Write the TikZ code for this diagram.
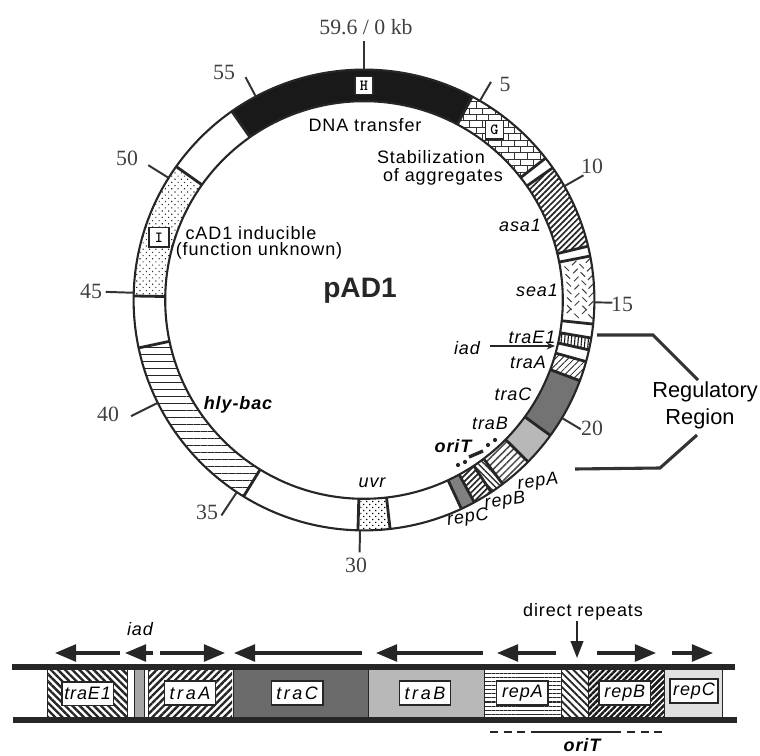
\documentclass[tikz,border=0pt]{standalone}
\usepackage{fontspec}
\setmainfont{Liberation Serif}
\newfontfamily\lblfont[LetterSpace=5]{Liberation Sans}
\newfontfamily\widefont[LetterSpace=14]{Liberation Sans}
\newfontfamily\regfont{Liberation Sans}
\usepackage{tikz}
\usetikzlibrary{arrows.meta,patterns,patterns.meta}
\tikzset{
  lbl/.style={font=\lblfont\fontsize{12.8}{15}\selectfont},
  gen/.style={font=\lblfont\fontsize{12.8}{15}\selectfont\itshape},
  genb/.style={font=\lblfont\fontsize{12.8}{15}\selectfont\itshape\bfseries},
  kbl/.style={font=\fontsize{15.5}{18}\selectfont,text=black!75},
  reglbl/.style={font=\regfont\fontsize{15.5}{18}\selectfont},
  rim/.style={line width=1.5pt,black!85},
  cutl/.style={line width=2pt,black!85},
  tck/.style={line width=1.4pt,black!80},
  band/.style={line width=3.6pt,black!85},
  brace/.style={line width=2.2pt,black!80},
  genarr/.style={line width=2.2pt,black!85,-{Triangle[length=15pt,width=12pt]}},
  lettr/.style={draw=black!85,fill=white,line width=1pt,inner sep=0pt,minimum size=13pt,font=\ttfamily\bfseries\fontsize{11}{11}\selectfont},
  tagbox/.style={draw=black!85,fill=white,line width=1pt,inner sep=0pt,minimum width=36.5pt,minimum height=17pt,font=\lblfont\fontsize{12.8}{15}\selectfont\itshape},
  tagwide/.style={tagbox,font=\widefont\fontsize{12.8}{15}\selectfont\itshape},
  pdots/.style={pattern={Dots[distance=3.2pt,radius=.55pt,angle=45]},pattern color=black!85},
  pdense/.style={pattern={Lines[angle=45,distance=3pt,line width=1.2pt]},pattern color=black!85},
  phoriz/.style={pattern={Lines[angle=0,distance=2.9pt,line width=.8pt]},pattern color=black!85},
  phly/.style={pattern={Lines[angle=0,distance=5pt,line width=.8pt]},pattern color=black!85},
  pvert/.style={pattern={Lines[angle=85,distance=2.4pt,line width=.8pt]},pattern color=black!90},
  pthin/.style={pattern={Lines[angle=45,distance=3.2pt,line width=.6pt]},pattern color=black!85},
  pstripeL/.style={pattern={Lines[angle=-45,distance=3.6pt,line width=1.7pt]},pattern color=black!85},
  pstripeR/.style={pattern={Lines[angle=45,distance=3.6pt,line width=1.7pt]},pattern color=black!85},
}
\newcommand{\rIn}{4.97}
\newcommand{\rOut}{5.76}
% one piece of the ring, angles run clockwise from the top
\newcommand{\ringseg}[3]{\path[#3] ({90-#1}:\rIn) arc[start angle={90-#1},end angle={90-#2},radius=\rIn] -- ({90-#2}:\rOut) arc[start angle={90-#2},end angle={90-#1},radius=\rOut] -- cycle;}
\begin{document}
\begin{tikzpicture}
  \useasboundingbox (0,0) rectangle (19,18.875);
  % plasmid ring
  \begin{scope}[shift={(9.1,11.375)}]
    \ringseg{-35}{28}{fill=black!90}
    % bricks
    \begin{scope}
      \ringseg{28}{52}{clip}
      \foreach \j in {0,...,20}{
        \pgfmathsetmacro{\yy}{2.4+\j*.16}
        \draw[line width=.5pt,black!80] (2,\yy) -- (5.4,\yy);
        \pgfmathsetmacro{\off}{mod(\j,2)*.16}
        \foreach \k in {0,...,11}
          \draw[line width=.5pt,black!80] ({2+\off+\k*.32},\yy) -- ++(0,.16);
      }
    \end{scope}
    \ringseg{55}{76.5}{pdense}
    \ringseg{99.5}{102.5}{pvert}
    \ringseg{105.5}{110.5}{pthin}
    \ringseg{110.5}{126}{fill=black!55}
    \ringseg{126}{134.6}{fill=black!28}
    \ringseg{134.6}{143}{pattern={Lines[angle=45,distance=3.6pt,line width=1.1pt]},pattern color=black!70}
    \ringseg{143}{146.5}{pattern={Lines[angle=-45,distance=3pt,line width=1pt]},pattern color=black!80}
    \ringseg{146.5}{151.4}{pdense}
    \ringseg{151.4}{155}{fill=black!50}
    \ringseg{173.5}{181.5}{pattern={Dots[distance=3pt,radius=.6pt,angle=45]},pattern color=black}
    \ringseg{211.5}{258}{phly}
    \ringseg{271}{305.4}{pdots}
    % sea1 dashes
    \foreach \a in {80.5,82.7,...,95}
      \foreach \r [count=\i] in {5.08,5.27,5.46,5.62}{
        \pgfmathsetmacro{\t}{mod(\i+round(\a),2)*90-45}
        \draw[line width=.7pt,black!75] ({90-\a}:\r) -- ++(\t:.16);
      }
    \draw[rim] (0,0) circle (\rIn);
    \draw[rim] (0,0) circle (\rOut);
    \foreach \a in {-35,28,52,55,76.5,79,96,99.5,102.5,105.5,110.5,126,134.6,143,146.5,151.4,155,173.5,181.5,211.5,258,271,305.4}
      \draw[cutl] ({90-\a}:\rIn) -- ({90-\a}:\rOut);
    % kb ticks
    \foreach \a/\l [count=\i] in {0/.72,30.2/.55,60.4/.55,90.6/.45,120.8/.55,181/.55,213.5/.7,243.5/.75,271.8/.7,302/.6,332/.55}{
      \coordinate (tin\i) at ({90-\a}:\rOut);
      \coordinate (tout\i) at ({90-\a}:\rOut+\l);
      \draw[tck] (tin\i) -- (tout\i);
    }
    \node[lettr] (boxH) at (90:5.36) {H};
    \node[lettr] (boxG) at (90-37.5:5.36) {G};
    \node[lettr,minimum size=14pt] (boxI) at (90-287:5.36) {I};
  \end{scope}
  % kb labels
  \node[kbl] (kb0) at (9.15,18.2) {59.6 / 0 kb};
  \node[kbl] (kb55) at (5.6,17.075) {55};
  \node[kbl] (kb5) at (12.625,16.775) {5};
  \node[kbl] (kb10) at (14.8,14.725) {10};
  \node[kbl] (kb15) at (15.55,11.275) {15};
  \node[kbl] (kb20) at (14.8,8.175) {20};
  \node[kbl] (kb30) at (8.9,4.75) {30};
  \node[kbl] (kb35) at (5.175,6.075) {35};
  \node[kbl] (kb40) at (2.7,8.525) {40};
  \node[kbl] (kb45) at (2.275,11.6) {45};
  \node[kbl] (kb50) at (3.175,14.925) {50};
  % ring texts
  \node[font=\regfont\bfseries\fontsize{20}{24}\selectfont,text=black!85] (plasmid) at (9,11.6) {pAD1};
  \node[lbl] (dna) at (9.125,15.75) {DNA transfer};
  \node[lbl] (stab1) at (10.775,14.95) {Stabilization};
  \node[lbl] (stab2) at (11.075,14.45) {of aggregates};
  \node[lbl] (cad1) at (6.275,13.05) {cAD1 inducible};
  \node[lbl] (cad2) at (6.475,12.6) {(function unknown)};
  \node[gen] (asa) at (13,13.25) {asa1};
  \node[gen] (sea) at (13.425,11.625) {sea1};
  \node[gen] (uvr) at (9.3,6.8) {uvr};
  \node[genb] (hly) at (5.95,8.75) {hly-bac};
  \node[gen] (iad) at (11.675,10.175) {iad};
  \node[gen] (trE) at (13.3,10.45) {traE1};
  \node[gen] (trA) at (13.2,9.825) {traA};
  \node[gen] (trC) at (12.825,9.025) {traC};
  \node[gen] (trB) at (12.25,8.3) {traB};
  \node[genb] (ori) at (11.325,7.725) {oriT};
  \node[gen,rotate=8] (rpA) at (13.45,6.825) {repA};
  \node[gen,rotate=8] (rpB) at (12.625,6.35) {repB};
  \node[gen,rotate=8] (rpC) at (11.7,5.925) {repC};
  % iad pointer
  \coordinate (iadS) at (12.25,10.225);
  \coordinate (iadE) at (13.875,10.225);
  \draw[line width=.9pt,black!85,-{Stealth[length=6pt,width=5pt]}] (iadS) -- (iadE);
  % oriT marks on the ring
  \coordinate (oriA) at (11.725,7.45);
  \coordinate (oriB) at (12.075,7.6);
  \draw[line width=2.4pt,black!85] (oriA) -- (oriB);
  \foreach \n/\x/\y in {a/11.45/7.25,b/11.625/7.325,c/12.2/7.75,d/12.375/7.875}
    \fill[black!85] (\x,\y) coordinate (dot\n) circle (1.5pt);
  % regulatory region
  \node[reglbl] (reg1) at (17.625,9.075) {Regulatory};
  \node[reglbl] (reg2) at (17.5,8.4) {Region};
  \coordinate (brA) at (14.925,10.5);
  \coordinate (brB) at (16.325,10.5);
  \coordinate (brC) at (17.45,9.375);
  \coordinate (brD) at (17.425,8.0);
  \coordinate (brE) at (16.5,7.175);
  \coordinate (brF) at (14.375,7.15);
  \draw[brace] (brA) -- (brB) -- (brC);
  \draw[brace] (brD) -- (brE) -- (brF);
  % linear map
  \fill[pstripeL] (1.175,0.925) rectangle (3.175,2.15);
  \fill[black!35] (3.35,0.925) rectangle (3.6,2.15);
  \fill[pstripeR] (3.7,0.925) rectangle (5.8,2.15);
  \fill[black!58] (5.825,0.925) rectangle (9.2,2.15);
  \fill[black!28] (9.2,0.925) rectangle (12.1,2.15);
  \fill[phoriz] (12.1,0.925) rectangle (14.025,2.15);
  \fill[pattern={Lines[angle=-45,distance=3.6pt,line width=1.3pt]},pattern color=black!85] (14.025,0.925) rectangle (14.7,2.15);
  \fill[pattern={Lines[angle=45,distance=3pt,line width=1.8pt]},pattern color=black!90] (14.7,0.925) rectangle (16.6,2.15);
  \fill[black!12] (16.6,0.925) rectangle (18.05,2.15);
  \foreach \x in {1.175,3.175,3.35,3.6,3.7,5.825,9.2,12.1,14.025,14.7,16.6,18.05}
    \draw[line width=.7pt,black!85] (\x,0.925) -- (\x,2.15);
  \coordinate (bandA) at (0.3,2.2);
  \coordinate (bandB) at (18.375,2.2);
  \coordinate (bandC) at (0.325,0.875);
  \coordinate (bandD) at (18.425,0.875);
  \draw[band] (bandA) -- (bandB);
  \draw[band] (bandC) -- (bandD);
  \node[tagbox] (mapE) at (2.19,1.53) {traE1};
  \node[tagwide] (mapA) at (4.75,1.55) {traA};
  \node[tagwide] (mapC) at (7.43,1.55) {traC};
  \node[tagwide] (mapB) at (10.625,1.55) {traB};
  \node[tagbox] (maprA) at (13.06,1.55) {repA};
  \node[tagbox] (maprB) at (15.62,1.55) {repB};
  \node[tagbox,minimum width=34pt] (maprC) at (17.35,1.6) {repC};
  % transcript arrows
  \foreach \n/\xa/\xb in {a/3.0/1.375,b/3.825/3.125,c/4.0/5.625,d/9.05/5.85,e/12.075/9.4,f/13.9/12.425,g/14.925/16.4,h/16.8/17.825}{
    \coordinate (ars\n) at (\xa,2.55);
    \coordinate (are\n) at (\xb,2.55);
    \draw[genarr] (ars\n) -- (are\n);
  }
  \node[gen] (mapiad) at (3.5,3.15) {iad};
  \node[lbl] (repeats) at (14.575,3.575) {direct repeats};
  \coordinate (dirS) at (14.425,3.35);
  \coordinate (dirE) at (14.425,2.425);
  \draw[line width=1.2pt,black!85,-{Triangle[length=12pt,width=9pt]}] (dirS) -- (dirE);
  % oriT extent
  \coordinate (oA) at (12.25,0.575);
  \coordinate (oB) at (13.125,0.575);
  \coordinate (oC) at (13.275,0.575);
  \coordinate (oD) at (15.525,0.575);
  \coordinate (oE) at (15.675,0.575);
  \coordinate (oF) at (16.575,0.575);
  \draw[line width=1.6pt,black!85,dash pattern=on 5.7pt off 3.9pt] (oA) -- (oB);
  \draw[line width=1.6pt,black!85] (oC) -- (oD);
  \draw[line width=1.6pt,black!85,dash pattern=on 5.7pt off 3.9pt] (oE) -- (oF);
  \node[genb,inner sep=0pt] (maporiT) at (14.55,0.26) {oriT};
\end{tikzpicture}
\end{document}
